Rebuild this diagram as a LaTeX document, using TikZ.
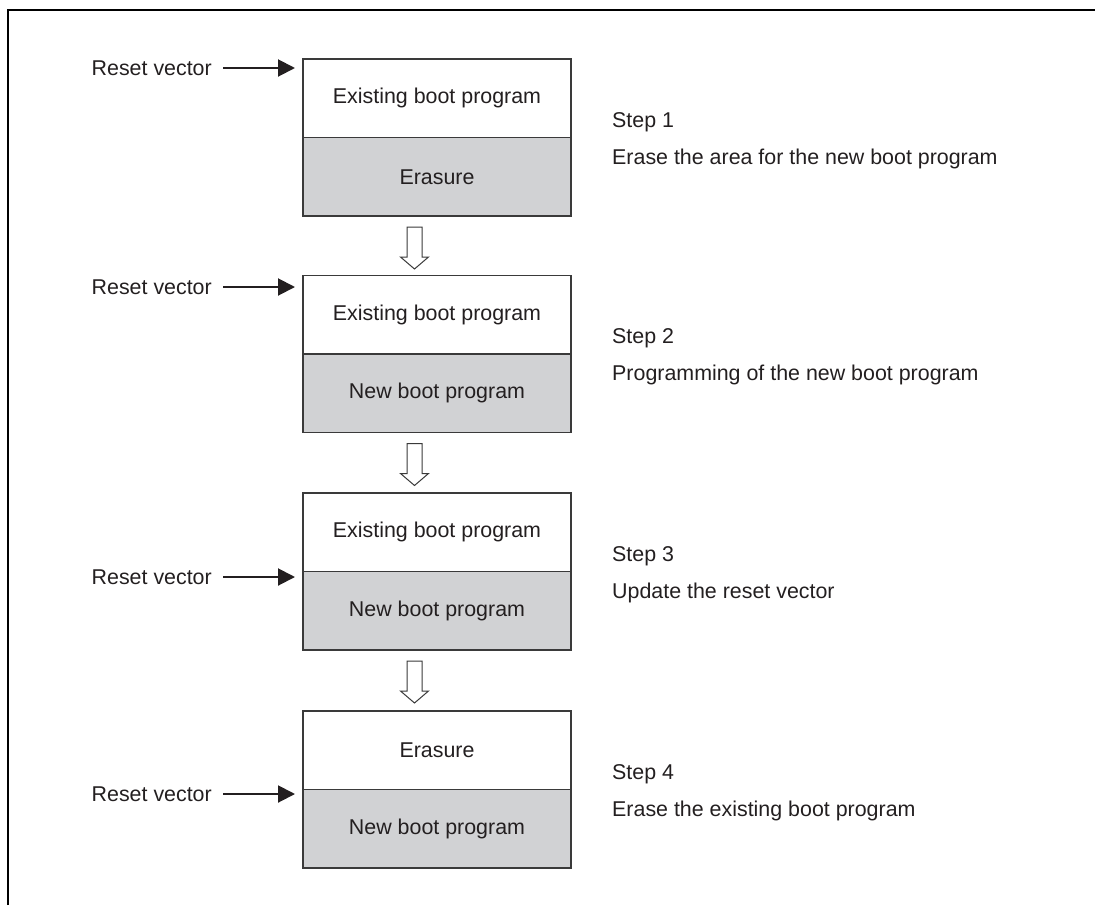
\documentclass[tikz,border=0pt]{standalone}
\usepackage{fontspec}
\setmainfont{Liberation Sans}
\usepackage{tikz}
\usetikzlibrary{positioning, calc, arrows.meta}
\usepackage{xcolor}
\definecolor{boxgray}{HTML}{D1D2D4}
\definecolor{inkgray}{HTML}{231F20}
\definecolor{edgegray}{HTML}{3A3A3A}
\newcommand{\lblfont}{\fontsize{21.4}{25}\selectfont}

\begin{document}
\begin{tikzpicture}[
  x=1pt, y=-1pt,
  half/.style={draw=edgegray, line width=1.2pt, minimum width=268pt, minimum height=78.5pt, inner sep=0pt, outer sep=0pt, font=\lblfont, text=inkgray},
  upper/.style={half, fill=white},
  lower/.style={half, fill=boxgray},
  rv/.style={anchor=east, inner sep=0pt, font=\lblfont, text=inkgray},
  rvarrow/.style={line width=2pt, draw=inkgray, -{Triangle[length=17pt, width=17pt]}, shorten <=11pt, shorten >=8pt},
  steptxt/.style={anchor=base west, inner sep=0pt, font=\lblfont, text=inkgray},
  hollow/.style={draw=edgegray, line width=1pt, fill=white, line join=miter}
]
  \useasboundingbox (0,0) rectangle (1095,905);

  % Frame
  \draw[line width=2pt] (8,905) -- (8,10.2) -- (1095,10.2);

  % Memory blocks
  \node[upper] (t1) at (437, 98.25) {Existing boot program};
  \node[lower, below=0pt of t1] (b1) {Erasure};

  \node[upper] (t2) at (437, 314.75) {Existing boot program};
  \node[lower, below=0pt of t2] (b2) {New boot program};

  \node[upper] (t3) at (437, 532.25) {Existing boot program};
  \node[lower, below=0pt of t3] (b3) {New boot program};

  \node[upper] (t4) at (437, 750.25) {Erasure};
  \node[lower, below=0pt of t4] (b4) {New boot program};

  % Reset vector labels
  \node[rv] (r1) at (212, 68) {Reset vector};
  \node[rv] (r2) at (212, 287) {Reset vector};
  \node[rv] (r3) at (212, 577) {Reset vector};
  \node[rv] (r4) at (212, 794) {Reset vector};

  % Step descriptions
  \node[steptxt] (step1) at (612, 127) {Step 1};
  \node[steptxt] (desc1) at (612, 164) {Erase the area for the new boot program};
  \node[steptxt] (step2) at (612, 343.5) {Step 2};
  \node[steptxt] (desc2) at (612, 380.5) {Programming of the new boot program};
  \node[steptxt] (step3) at (612, 561) {Step 3};
  \node[steptxt] (desc3) at (612, 598) {Update the reset vector};
  \node[steptxt] (step4) at (612, 779) {Step 4};
  \node[steptxt] (desc4) at (612, 816) {Erase the existing boot program};

  % Arrows: reset vector into blocks
  \foreach \i in {1,2,3,4} {
    \draw[rvarrow] (r\i.east) -- (r\i.east -| t\i.west);
  }

  % Hollow arrows between steps
  \foreach \a/\b in {1/2, 2/3, 3/4} {
    \draw[hollow, shift={($(b\a.south)+(-22.5,0)$)}]
      (-7.5,11) -- (7.5,11) -- (7.5,41) -- (14,41) -- (0,53) -- (-14,41) -- (-7.5,41) -- cycle;
  }
\end{tikzpicture}
\end{document}
